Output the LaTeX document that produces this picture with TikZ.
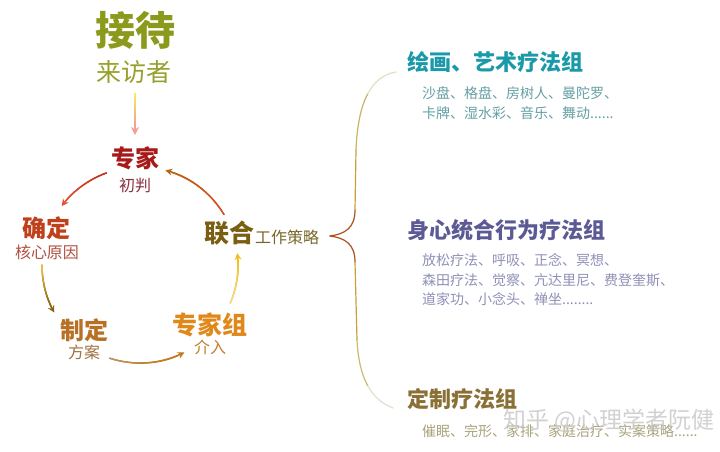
\documentclass[tikz,border=0pt]{standalone}
\usepackage{fontspec}
\setmainfont{Noto Sans CJK SC}
\usetikzlibrary{arrows.meta,calc}
\definecolor{cJD}{HTML}{8C9A1C}
\definecolor{cLF}{HTML}{98A02C}
\definecolor{cZJ}{HTML}{A81A1A}
\definecolor{cCP}{HTML}{8A3040}
\definecolor{cQD}{HTML}{C0401C}
\definecolor{cHX}{HTML}{B05040}
\definecolor{cZD}{HTML}{B87024}
\definecolor{cFA}{HTML}{A07040}
\definecolor{cZZ}{HTML}{E0881A}
\definecolor{cJR}{HTML}{C08030}
\definecolor{cLH}{HTML}{7A5E12}
\definecolor{cGZ}{HTML}{786628}
\definecolor{cTa}{HTML}{1A9AA8}
\definecolor{cIa}{HTML}{64A0A4}
\definecolor{cTb}{HTML}{5C5A94}
\definecolor{cIb}{HTML}{9090B8}
\definecolor{cTc}{HTML}{8A7034}
\definecolor{cIc}{HTML}{A8A47C}
% arc colours
\definecolor{aA}{HTML}{C02C1C}\definecolor{aAe}{HTML}{E05030}
\definecolor{aB}{HTML}{F2CC44}\definecolor{aBe}{HTML}{8A6210}
\definecolor{aC}{HTML}{B89468}\definecolor{aCe}{HTML}{C07818}
\definecolor{aD}{HTML}{F6DC98}\definecolor{aDe}{HTML}{F0C020}
\definecolor{aE}{HTML}{E04A28}\definecolor{aEe}{HTML}{B86418}
\definecolor{dA}{HTML}{F2EC60}\definecolor{dB}{HTML}{F4A092}
\definecolor{bTip}{HTML}{A8521E}\definecolor{bMid}{HTML}{C8A038}
\definecolor{bEndA}{HTML}{C8B468}\definecolor{bEndB}{HTML}{E2E0C4}
\definecolor{bEndC}{HTML}{C4BC74}\definecolor{bEndD}{HTML}{DDE2CA}
\tikzset{
  cycline/.style={line width=1.4pt, line cap=round},
  cyctip/.style={-{Stealth[length=7pt,width=7pt,inset=2.5pt]}},
  big/.style={inner sep=0pt, font=\fontsize{24}{24}\selectfont\bfseries},
  small/.style={inner sep=0pt, font=\fontsize{16}{16}\selectfont},
  head/.style={inner sep=0pt, anchor=west, font=\fontsize{22}{22}\selectfont\bfseries},
  item/.style={inner sep=0pt, anchor=west, font=\fontsize{14}{14}\selectfont},
  brace/.style={line width=1.2pt, line cap=round}
}
\newcommand\gradarc[6]{%
  \draw[cycline, cyctip, draw=#6] ($(#1)+(#3:#2)$) arc[start angle=#3, end angle=#4, radius=#2];
  \pgfmathsetmacro\gE{#4-3.5}
  \foreach \i in {0,...,11}{
    \pgfmathsetmacro\ga{#3+(\gE-#3)*\i/12}
    \pgfmathsetmacro\gb{#3+(\gE-#3)*(\i+1)/12}
    \pgfmathtruncatemacro\gp{100-\i*100/11}
    \draw[cycline, draw=#5!\gp!#6] ($(#1)+(\ga:#2)$) arc[start angle=\ga, end angle=\gb, radius=#2];
  }}
\begin{document}
\begin{tikzpicture}[x=1pt,y=-1pt]
\fill[white] (0,0) rectangle (720,452);
\useasboundingbox (0,0) rectangle (720,452);

% left cycle texts
\node[inner sep=0pt, font=\fontsize{40}{40}\selectfont\bfseries, text=cJD] (jiedai) at (135,30) {接待};
\node[inner sep=0pt, font=\fontsize{25}{25}\selectfont, text=cLF] (laifang) at (134,72) {来访者};
\node[big, text=cZJ] (zhuanjia) at (135,158) {专家};
\node[small, text=cCP] (chupan) at (135,185) {初判};
\node[big, text=cQD] (queding) at (47,228) {确定};
\node[small, text=cHX] (hexin) at (47,252) {核心原因};
\node[big, text=cZD] (zhiding) at (84,330) {制定};
\node[small, text=cFA] (fangan) at (84,352) {方案};
\node[big, text=cZZ, font=\fontsize{25}{25}\selectfont\bfseries] (zjz) at (210,325) {专家组};
\node[small, text=cJR] (jieru) at (210,347) {介入};
\node[big, text=cLH, font=\fontsize{25}{25}\selectfont\bfseries] (lianhe) at (229,233) {联合};
\node[small, text=cGZ, anchor=west] (gongzuo) at (255,237) {工作策略};

% down arrow (gradient)
\coordinate (dtop) at (135,93);
\coordinate (dbot) at (135,135);
\draw[line width=1.8pt, -{Stealth[length=8pt,width=8pt,inset=2.5pt]}, draw=dB] (dtop) -- (dbot);
\foreach \i in {0,...,9}{
  \pgfmathtruncatemacro\gp{100-\i*100/9}
  \pgfmathsetmacro\ta{\i/10*0.82}
  \pgfmathsetmacro\tb{(\i+1)/10*0.82}
  \draw[line width=1.8pt, draw=dA!\gp!dB] ($(dtop)!\ta!(dbot)$) -- ($(dtop)!\tb!(dbot)$);
}

% cycle arcs
\coordinate (cyc) at (140,265);
\gradarc{cyc}{98pt}{110}{143}{aA}{aAe}
\gradarc{cyc}{98pt}{180}{209}{aB}{aBe}
\gradarc{cyc}{98pt}{252}{297}{aC}{aCe}
\gradarc{cyc}{98pt}{337}{367}{aD}{aDe}
\gradarc{cyc}{98pt}{31}{75}{aE}{aEe}

% brace
\coordinate (btip) at (330,236);
\draw[brace, draw=bTip] (btip) .. controls (345,234) and (355,228) .. (355,210);
\draw[brace, draw=bTip] (btip) .. controls (345,238) and (355,244) .. (355,262);
\draw[brace, draw=bMid] (355,210) -- (356,150);
\draw[brace, draw=bMid] (355,262) -- (357,340);
\draw[brace, draw=bEndA] (356,150) .. controls (357,125) and (361,106.5) .. (367.75,93.75);
\draw[brace, draw=bEndB] (367.75,93.75) .. controls (374.5,81) and (384,74) .. (396,72);
\draw[brace, draw=bEndC] (357,340) .. controls (358,360) and (361.75,375) .. (367.875,386);
\draw[brace, draw=bEndD] (367.875,386) .. controls (374,397) and (382.5,404) .. (393,408);

% right groups
\node[head, text=cTa] (ga) at (407,62) {绘画、艺术疗法组};
\node[item, text=cIa] (ga1) at (422,93) {沙盘、格盘、房树人、曼陀罗、};
\node[item, text=cIa] (ga2) at (422,113) {卡牌、湿水彩、音乐、舞动......};

\node[head, text=cTb] (gb) at (407,230) {身心统合行为疗法组};
\node[item, text=cIb] (gb1) at (422,260) {放松疗法、呼吸、正念、冥想、};
\node[item, text=cIb] (gb2) at (422,280) {森田疗法、觉察、亢达里尼、费登奎斯、};
\node[item, text=cIb] (gb3) at (422,299) {道家功、小念头、禅坐........};

\node[head, text=cTc] (gc) at (407,399) {定制疗法组};
\node[item, text=cIc] (gc1) at (422,431) {催眠、完形、家排、家庭治疗、实案策略......};

% watermark
\node[inner sep=0pt, anchor=west, font=\fontsize{23}{23}\selectfont, text=gray!45, opacity=0.8] (wm) at (503,421) {知乎 @心理学者阮健};
\end{tikzpicture}
\end{document}
